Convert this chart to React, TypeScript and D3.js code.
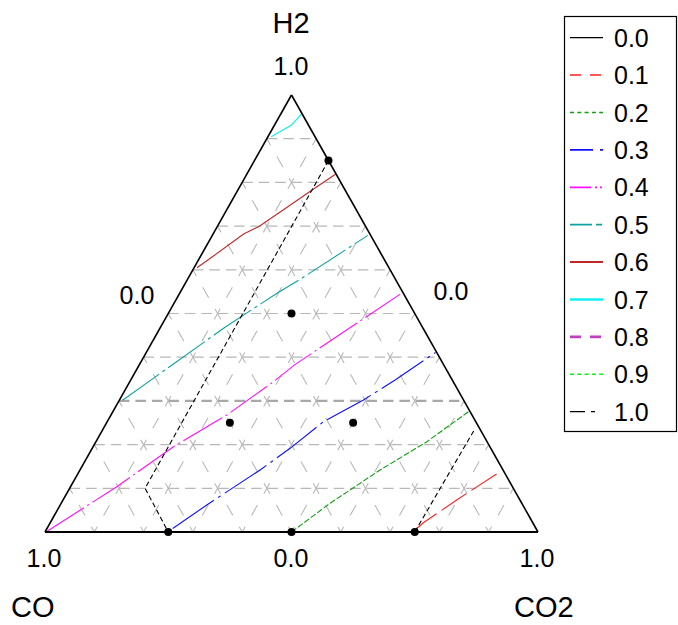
import React from "react";
import * as d3 from "d3";

// Ternary points are [H2, CO2]; CO = 1 - H2 - CO2
const levels = ["0.0", "0.1", "0.2", "0.3", "0.4", "0.5", "0.6", "0.7", "0.8", "0.9", "1.0"];
const levelColors = ["#000000", "#ff2020", "#10a010", "#1010ff", "#ff10ff", "#10a0a0", "#c02828", "#10f0f0", "#c040c0", "#10f010", "#000000"];
const levelDashes = ["", "11,9", "4,3.3", "23,7,4,7", "21,4,2,3,2,3", "22,4,6,4,2,4", "", "", "11,9", "4,3.3", "15,6,4,8"];
const legendWidths = [1.2, 1.5, 1.5, 1.8, 1.8, 1.8, 2, 2.4, 2.6, 1.5, 1.2];

const contour01: [number, number][] = [[0, 0.746], [0.0206, 0.7564], [0.0732, 0.7984], [0.138, 0.854]];
const contour02: [number, number][] = [[0, 0.5], [0.0657, 0.5453], [0.1419, 0.6087], [0.2066, 0.6712], [0.2753, 0.7213]];
const contour03: [number, number][] = [[0.008, 0.255], [0.0618, 0.2972], [0.1419, 0.3653], [0.1915, 0.4014], [0.2524, 0.4385], [0.3021, 0.4949], [0.3478, 0.5363], [0.411, 0.5868]];
const contour04: [number, number][] = [[0, 0.002], [0.1037, 0.0937], [0.1952, 0.1629], [0.2677, 0.2349], [0.3439, 0.2915], [0.3819, 0.3146], [0.5444, 0.4483]];
const contour05: [number, number][] = [[0.3016, 0.0065], [0.4686, 0.1308], [0.5462, 0.1974], [0.5783, 0.2286], [0.6787, 0.3154]];
const contour06: [number, number][] = [[0.6048, 0.0059], [0.6263, 0.0222], [0.6819, 0.0619], [0.6986, 0.084], [0.7483, 0.1235], [0.7826, 0.1505], [0.8185, 0.1798]];
const contour07: [number, number][] = [[0.9046, 0.0065], [0.9314, 0.0343], [0.9558, 0.0417]];
const contour10a: [number, number][] = [[0.85, 0.15], [0.1, 0.153], [0, 0.25]];
const contour10b: [number, number][] = [[0, 0.75], [0.235, 0.754]];

const contours: { pts: [number, number][]; level: number }[] = [
  { pts: contour01, level: 1 },
  { pts: contour02, level: 2 },
  { pts: contour03, level: 3 },
  { pts: contour04, level: 4 },
  { pts: contour05, level: 5 },
  { pts: contour06, level: 6 },
  { pts: contour07, level: 7 },
  { pts: contour10a, level: 10 },
  { pts: contour10b, level: 10 },
];

const samplePoints: [number, number][] = [[0.85, 0.15], [0.5, 0.25], [0.25, 0.25], [0.25, 0.5], [0, 0.25], [0, 0.5], [0, 0.75]];

const gridSteps = [0.1, 0.2, 0.3, 0.4, 0.5, 0.6, 0.7, 0.8, 0.9];

const W = 678;
const H = 625;

export default function App() {
  const xs = d3.scaleLinear().domain([0, 1]).range([45, 538]);
  const ys = d3.scaleLinear().domain([0, 1]).range([532, 95]);
  const px = (h: number, d: number) => xs(d + h / 2);
  const py = (h: number) => ys(h);
  const line = d3
    .line<[number, number]>()
    .x((p) => px(p[0], p[1]))
    .y((p) => py(p[0]));

  const font = "'Liberation Sans', Arial, sans-serif";

  const grid: React.ReactNode[] = [];
  gridSteps.forEach((k, i) => {
    // horizontal (constant H2)
    grid.push(
      <line key={"h" + i} x1={px(k, 0)} y1={py(k)} x2={px(k, 1 - k)} y2={py(k)}
        stroke={Math.abs(k - 0.3) < 1e-6 ? "#a8a8a8" : "#b8b8b8"}
        strokeWidth={Math.abs(k - 0.3) < 1e-6 ? 2.2 : 1.2}
        strokeDasharray="10.5,6" />
    );
    // constant CO2
    grid.push(
      <line key={"d" + i} x1={px(0, k)} y1={py(0)} x2={px(1 - k, k)} y2={py(1 - k)}
        stroke="#b8b8b8" strokeWidth={1.1} strokeDasharray="12,13" strokeDashoffset={6} />
    );
    // constant CO
    grid.push(
      <line key={"c" + i} x1={px(0, 1 - k)} y1={py(0)} x2={px(1 - k, 0)} y2={py(1 - k)}
        stroke="#b8b8b8" strokeWidth={1.1} strokeDasharray="12,13" strokeDashoffset={6} />
    );
  });

  const contourDash = (level: number) =>
    level === 10 ? "5,3" : level === 1 ? "30,6" : level === 3 ? "50,5,3,5" : level === 4 ? "45,4,2,4" : level === 5 ? "45,4,3,4" : level === 2 ? "6,2" : "";

  return (
    <svg width={W} height={H} style={{ position: "absolute", left: 0, top: 0, background: "#fff" }}
      fontFamily={font}>
      <rect x={0} y={0} width={W} height={H} fill="#fff" />
      {grid}
      {contours.map((c, i) => (
        <path key={"ct" + i} d={line(c.pts) || ""} fill="none" stroke={levelColors[c.level]}
          strokeWidth={1.1} strokeDasharray={contourDash(c.level)} />
      ))}
      {/* triangle */}
      <path d={`M${px(1, 0)},${py(1)}L${px(0, 0)},${py(0)}`} stroke="#000" strokeWidth={1.6} fill="none" />
      <path d={`M${px(1, 0)},${py(1)}L${px(0, 1)},${py(0)}`} stroke="#000" strokeWidth={1.6} fill="none" />
      <path d={`M${px(0, 0)},${py(0)}L${px(0, 1)},${py(0)}`} stroke="#000" strokeWidth={2.2} fill="none" />
      {samplePoints.map((p, i) => (
        <circle key={"pt" + i} cx={px(p[0], p[1])} cy={py(p[0])} r={4} fill="#000" />
      ))}
      {/* axis labels */}
      <text x={291} y={33} fontSize={29} textAnchor="middle">H2</text>
      <text x={291} y={75} fontSize={25} textAnchor="middle">1.0</text>
      <text x={137} y={304} fontSize={25} textAnchor="middle">0.0</text>
      <text x={451} y={300} fontSize={25} textAnchor="middle">0.0</text>
      <text x={44} y={567} fontSize={25} textAnchor="middle">1.0</text>
      <text x={291} y={567} fontSize={25} textAnchor="middle">0.0</text>
      <text x={537} y={567} fontSize={25} textAnchor="middle">1.0</text>
      <text x={11} y={617} fontSize={29}>CO</text>
      <text x={514} y={617} fontSize={29}>CO2</text>
      {/* legend */}
      <rect x={564.5} y={16.5} width={112} height={415} fill="#fff" stroke="#000" strokeWidth={1.2} />
      {levels.map((lv, i) => {
        const y = 37.7 + i * 37.4;
        return (
          <g key={"lg" + i}>
            <line x1={570} x2={603} y1={y} y2={y} stroke={levelColors[i]} strokeWidth={legendWidths[i]}
              strokeDasharray={levelDashes[i]} />
            <text x={614} y={y + 9} fontSize={25}>{lv}</text>
          </g>
        );
      })}
    </svg>
  );
}
